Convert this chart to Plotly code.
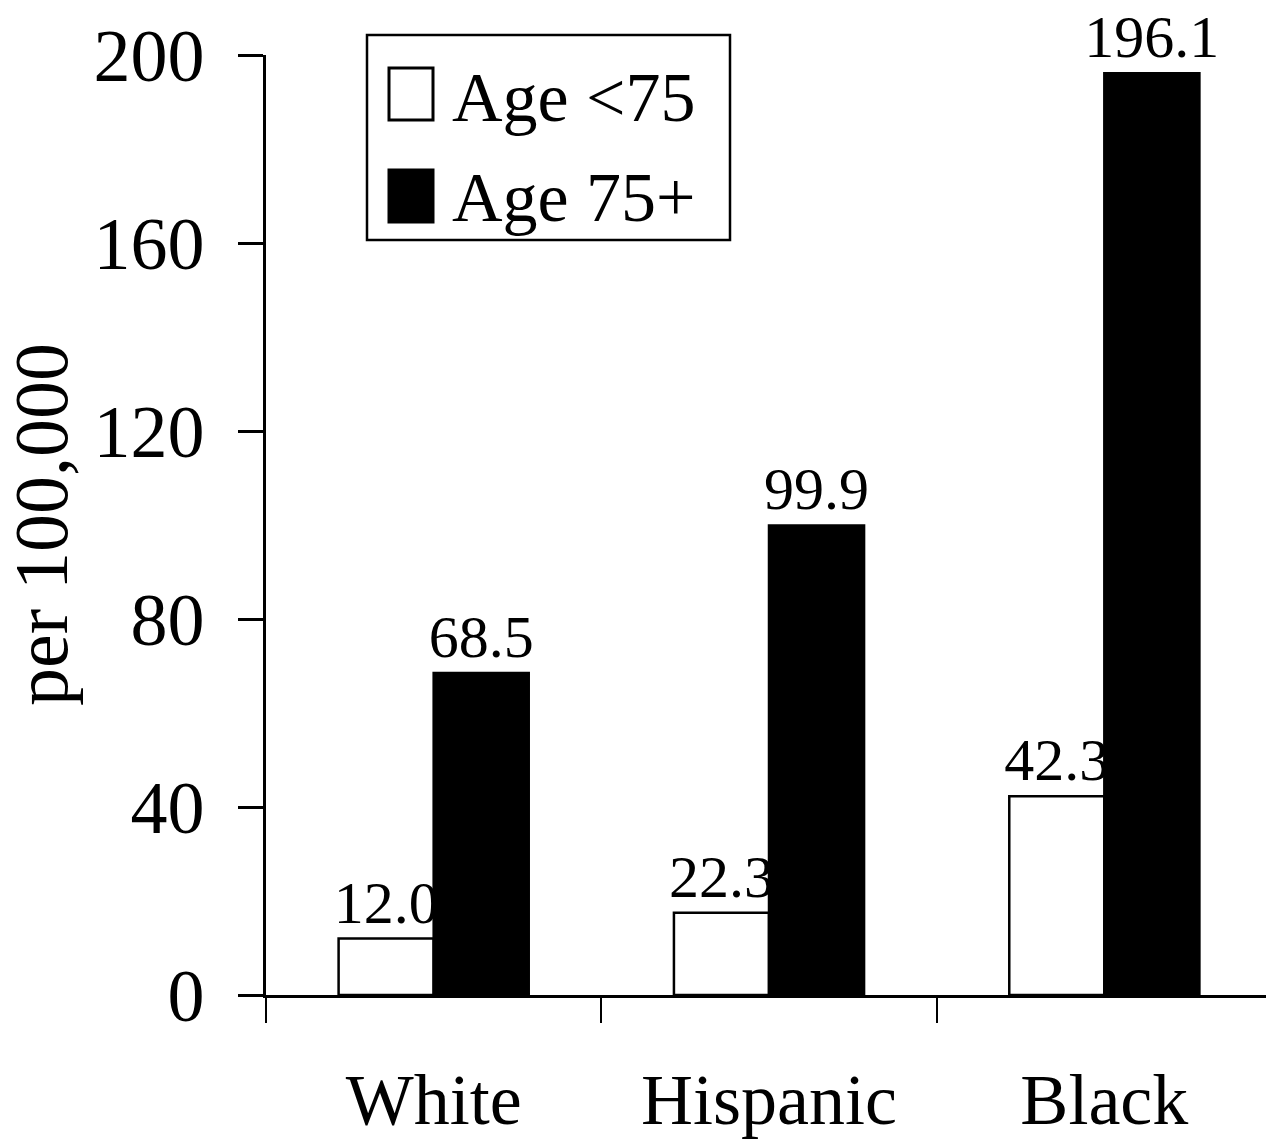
import plotly.graph_objects as go

# Data
categories = ["White", "Hispanic", "Black"]
under75_values = [12.0, 17.5, 42.3]          # bar heights as drawn
under75_labels = ["12.0", "22.3", "42.3"]    # printed labels
over75_values = [68.5, 99.9, 196.1]
over75_labels = ["68.5", "99.9", "196.1"]
y_ticks = [0, 40, 80, 120, 160, 200]
legend_names = ["Age <75", "Age 75+"]
y_title = "per 100,000"

FONT = "Liberation Serif"
OFF = 8  # page body margin
W, H = 1266, 1134
L, R, T, B = 258, 2, 47, 147

def px_x(p):
    return (p - OFF - L) / (W - L - R)

def px_y(p):
    return (H - B - (p - OFF)) / (H - B - T)

fig = go.Figure()
fig.add_trace(go.Bar(
    x=categories, y=under75_values, name=legend_names[0],
    text=under75_labels, textposition="outside", constraintext="none",
    textfont=dict(family=FONT, size=60, color="black"),
    marker=dict(color="white", line=dict(color="black", width=2.5)),
    cliponaxis=False, showlegend=False,
))
fig.add_trace(go.Bar(
    x=categories, y=over75_values, name=legend_names[1],
    text=over75_labels, textposition="outside", constraintext="none",
    textfont=dict(family=FONT, size=60, color="black"),
    marker=dict(color="black", line=dict(color="black", width=2.5)),
    cliponaxis=False, showlegend=False,
))

shapes = [
    dict(type="rect", xref="paper", yref="paper",
         x0=px_x(367), x1=px_x(730), y0=px_y(240), y1=px_y(35),
         line=dict(color="black", width=2.5), fillcolor="white", layer="above"),
    dict(type="rect", xref="paper", yref="paper",
         x0=px_x(389), x1=px_x(433), y0=px_y(120), y1=px_y(68),
         line=dict(color="black", width=3), fillcolor="white", layer="above"),
    dict(type="rect", xref="paper", yref="paper",
         x0=px_x(389), x1=px_x(433), y0=px_y(222), y1=px_y(170),
         line=dict(color="black", width=3), fillcolor="black", layer="above"),
]
annotations = [
    dict(xref="paper", yref="paper", x=px_x(450), y=px_y(97), text=legend_names[0],
         xanchor="left", yanchor="middle", showarrow=False,
         font=dict(family=FONT, size=70, color="black")),
    dict(xref="paper", yref="paper", x=px_x(450), y=px_y(197), text=legend_names[1],
         xanchor="left", yanchor="middle", showarrow=False,
         font=dict(family=FONT, size=70, color="black")),
    dict(xref="paper", yref="paper", x=px_x(41), y=px_y(525), text=y_title,
         textangle=-90, xanchor="center", yanchor="middle", showarrow=False,
         font=dict(family=FONT, size=76, color="black")),
]

fig.update_layout(
    width=W, height=H,
    margin=dict(l=L, r=R, t=T, b=B, pad=0, autoexpand=False),
    paper_bgcolor="white", plot_bgcolor="white",
    barmode="group", bargap=0.433, bargroupgap=0,
    font=dict(family=FONT, color="black"),
    shapes=shapes, annotations=annotations,
    xaxis=dict(
        type="category", tickson="boundaries", ticks="outside", ticklen=25,
        tickwidth=2, tickcolor="black", showline=True, linecolor="black",
        linewidth=2.5, showgrid=False, zeroline=False, automargin=False,
        tickfont=dict(family=FONT, size=72, color="black"),
        ticklabelstandoff=40,
    ),
    yaxis=dict(
        range=[0, 200], tickvals=y_ticks, ticks="outside", ticklen=25,
        tickwidth=2.5, tickcolor="black", showline=True, linecolor="black",
        linewidth=2.5, showgrid=False, zeroline=False, automargin=False,
        tickfont=dict(family=FONT, size=74, color="black"),
        ticklabelstandoff=19,
    ),
)

fig.write_html("out.html")
